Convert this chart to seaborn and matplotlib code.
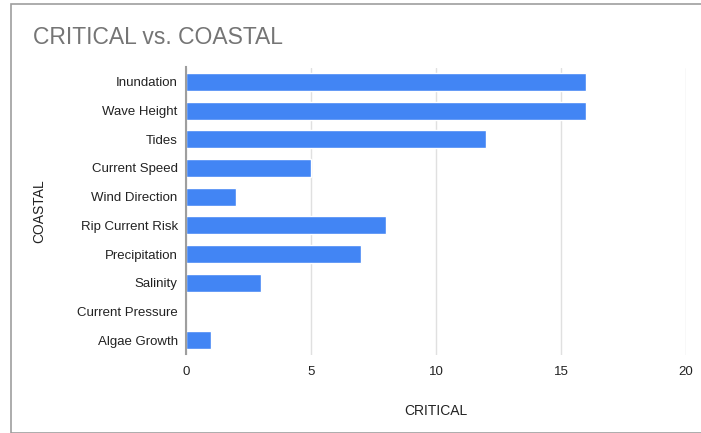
import matplotlib
matplotlib.use("Agg")
import matplotlib.pyplot as plt
import seaborn as sns
import pandas as pd
from matplotlib.patches import Rectangle

categories = ["Inundation", "Wave Height", "Tides", "Current Speed", "Wind Direction",
              "Rip Current Risk", "Precipitation", "Salinity", "Current Pressure", "Algae Growth"]
values = [16, 16, 12, 5, 2, 8, 7, 3, 0, 1]
x_ticks = [0, 5, 10, 15, 20]

df = pd.DataFrame({"COASTAL": categories, "CRITICAL": values})

sns.set_theme(style="white")
plt.rcParams['font.family'] = ['Liberation Sans', 'DejaVu Sans']

fig = plt.figure(figsize=(7.01, 4.33), dpi=100)
fig.patch.set_facecolor("white")
# chart border like the spreadsheet chart box
fig.patches.append(Rectangle((11/701, 0), 1, 1 - 4/433, transform=fig.transFigure,
                             fill=False, edgecolor="#9e9e9e", linewidth=1.2))

ax = fig.add_axes([186/701, 1 - 354.5/433, 500/701, (354.5 - 67.5)/433])
sns.barplot(data=df, x="CRITICAL", y="COASTAL", color="#4285F4", saturation=1,
            width=0.63, ax=ax, orient="h")

ax.set_xlim(0, 20)
ax.set_xticks(x_ticks)
ax.set_xticklabels([str(t) for t in x_ticks], fontsize=9.5, color="#222222")
ax.tick_params(axis="y", labelsize=9.5, labelcolor="#222222", length=0, pad=6)
ax.tick_params(axis="x", length=0, pad=8)
ax.grid(axis="x", color="#e0e0e0", linewidth=1)
ax.set_axisbelow(True)
for s in ["top", "right", "bottom"]:
    ax.spines[s].set_visible(False)
ax.spines["left"].set_color("#9e9e9e")
ax.spines["left"].set_linewidth(1.5)

ax.set_xlabel("CRITICAL", fontsize=10, color="#222222", labelpad=19)
ax.set_ylabel("COASTAL", fontsize=10, color="#222222", labelpad=22)

fig.text(33/701, 1 - 38/433, "CRITICAL vs. COASTAL", fontsize=16.5, color="#757575",
         va="center", ha="left")

fig.savefig("out.png", dpi=100, facecolor="white")
